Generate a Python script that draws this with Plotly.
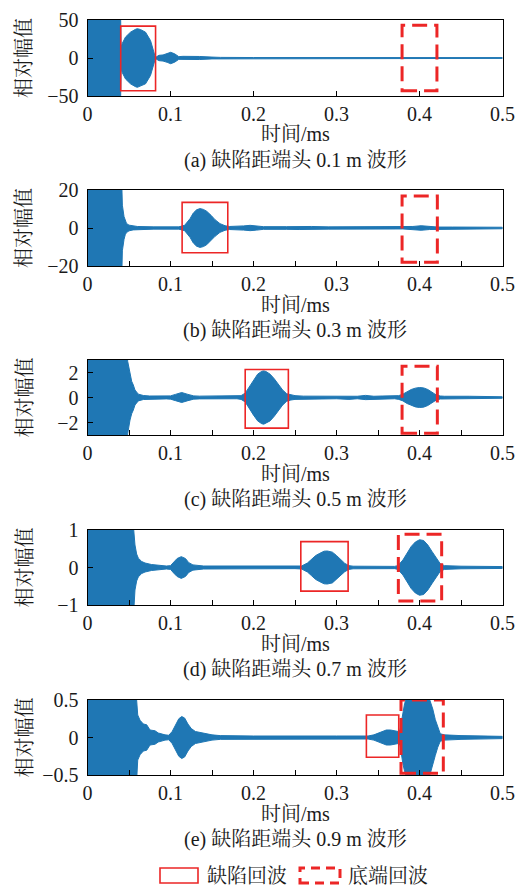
import plotly.graph_objects as go
from plotly.subplots import make_subplots

# ---------------- data ----------------
x_range = [0, 0.5]
x_tickvals = [0, 0.1, 0.2, 0.3, 0.4, 0.5]

captions = [
    "(a) 缺陷距端头 0.1 m 波形",
    "(b) 缺陷距端头 0.3 m 波形",
    "(c) 缺陷距端头 0.5 m 波形",
    "(d) 缺陷距端头 0.7 m 波形",
    "(e) 缺陷距端头 0.9 m 波形",
]
y_ranges = [[-50, 50], [-20, 20], [-3, 3], [-1, 1], [-0.5, 0.5]]
y_tickvals = [[-50, 0, 50], [-20, 0, 20], [-2, 0, 2], [-1, 0, 1], [-0.5, 0, 0.5]]

# envelope (|amplitude|) of each waveform, time in ms
t_a = [0, 0.0395, 0.0405, 0.0418, 0.0458, 0.0518, 0.0578, 0.060, 0.0638, 0.0699,
       0.0759, 0.0791, 0.0811, 0.083, 0.086, 0.091, 0.096, 0.1002, 0.105, 0.110,
       0.115, 0.125, 0.135, 0.150, 0.160, 0.200, 0.380, 0.390, 0.400, 0.410, 0.420, 0.500]
amp_a = [80, 80, 14, 19, 27.6, 34, 37.7, 38.6, 37.5, 34,
         23, 12, 3.5, 1.5, 3.5, 4.0, 5.7, 7.5, 5.5, 1.8,
         2.2, 2.2, 2.0, 1.2, 0.8, 0.6, 0.6, 0.9, 1.1, 0.9, 0.6, 0.5]

t_b = [0, 0.0405, 0.0415, 0.042, 0.044, 0.0455, 0.047, 0.050, 0.055, 0.060, 0.080,
       0.110, 0.1135, 0.117, 0.1235, 0.1275, 0.1315, 0.1355, 0.1396, 0.1436, 0.1488,
       0.1536, 0.1596, 0.1657, 0.171, 0.180, 0.188, 0.196, 0.204, 0.212, 0.240,
       0.255, 0.262, 0.270, 0.290, 0.380, 0.392, 0.402, 0.412, 0.422, 0.440, 0.500]
amp_b = [40, 40, 20, 12, 6, 3.5, 2.4, 1.5, 1.0, 0.8, 0.6,
         0.6, 1.0, 1.4, 4.9, 7.9, 9.6, 10.2, 9.8, 8.8, 6.7,
         4.4, 2.3, 1.2, 0.8, 0.8, 1.1, 1.4, 1.1, 0.7, 0.7,
         0.8, 1.0, 0.8, 0.6, 0.5, 0.8, 1.2, 0.8, 0.5, 0.5, 0.4]

t_c = [0, 0.0472, 0.0484, 0.0512, 0.0532, 0.0552, 0.0572, 0.0612, 0.0673, 0.075, 0.095,
       0.100, 0.106, 0.1135, 0.121, 0.128, 0.135, 0.180, 0.185, 0.190, 0.195,
       0.200, 0.205, 0.210, 0.2125, 0.215, 0.220, 0.225, 0.230, 0.235, 0.240,
       0.245, 0.250, 0.260, 0.300, 0.315, 0.325, 0.335, 0.345, 0.355, 0.370,
       0.375, 0.380, 0.385, 0.390, 0.395, 0.400, 0.405, 0.410, 0.415, 0.420,
       0.425, 0.430, 0.460, 0.500]
amp_c = [5, 5, 2.9, 1.8, 1.3, 1.0, 0.6, 0.27, 0.16, 0.12, 0.11,
         0.13, 0.25, 0.4, 0.25, 0.13, 0.11, 0.1, 0.15, 0.35, 0.88,
         1.41, 1.87, 2.1, 2.13, 2.08, 1.87, 1.5, 1.07, 0.61, 0.3,
         0.2, 0.15, 0.11, 0.1, 0.15, 0.1, 0.17, 0.1, 0.12, 0.1,
         0.15, 0.27, 0.48, 0.64, 0.75, 0.8, 0.77, 0.64, 0.43, 0.21,
         0.12, 0.1, 0.1, 0.06]

t_d = [0, 0.0535, 0.0555, 0.0572, 0.0592, 0.0612, 0.0653, 0.0693, 0.077, 0.085, 0.095,
       0.100, 0.104, 0.108, 0.113, 0.118, 0.122, 0.127, 0.140, 0.250, 0.258,
       0.265, 0.270, 0.275, 0.280, 0.285, 0.289, 0.295, 0.300, 0.305, 0.310,
       0.315, 0.320, 0.370, 0.374, 0.380, 0.385, 0.390, 0.395, 0.400, 0.405,
       0.410, 0.415, 0.420, 0.425, 0.430, 0.450, 0.500]
amp_d = [2, 2, 1.05, 0.6, 0.36, 0.25, 0.16, 0.12, 0.08, 0.06, 0.04,
         0.05, 0.15, 0.24, 0.29, 0.24, 0.13, 0.07, 0.04, 0.03, 0.04,
         0.12, 0.22, 0.32, 0.38, 0.435, 0.44, 0.41, 0.32, 0.21, 0.11,
         0.05, 0.035, 0.03, 0.05, 0.2, 0.38, 0.56, 0.68, 0.74, 0.72,
         0.6, 0.43, 0.25, 0.1, 0.05, 0.035, 0.025]

t_e = [0, 0.0572, 0.0592, 0.0605, 0.0633, 0.0673, 0.0713, 0.0753, 0.0813, 0.0853, 0.0934,
       0.098, 0.102, 0.106, 0.110, 0.1135, 0.117, 0.121, 0.125, 0.130, 0.140,
       0.150, 0.160, 0.200, 0.300, 0.338, 0.345, 0.350, 0.355, 0.360, 0.365,
       0.370, 0.3745, 0.3765, 0.378, 0.380, 0.382, 0.385, 0.392, 0.400, 0.406,
       0.410, 0.413, 0.416, 0.419, 0.422, 0.425, 0.430, 0.450, 0.500]
amp_e = [1, 1, 0.5, 0.3, 0.23, 0.18, 0.17, 0.1, 0.09, 0.06, 0.035,
         0.03, 0.08, 0.17, 0.25, 0.28, 0.26, 0.18, 0.12, 0.08, 0.053,
         0.035, 0.025, 0.02, 0.02, 0.02, 0.035, 0.06, 0.08, 0.1, 0.1,
         0.09, 0.08, 0.1, 0.2, 0.35, 0.45, 0.55, 0.7, 0.78, 0.72,
         0.58, 0.48, 0.38, 0.24, 0.13, 0.05, 0.035, 0.025, 0.015]

times = [t_a, t_b, t_c, t_d, t_e]
envelopes = [amp_a, amp_b, amp_c, amp_d, amp_e]

# marker boxes: defect echo (solid) and end echo (dashed)
defect_x0 = [0.040, 0.114, 0.190, 0.257, 0.336]
defect_x1 = [0.082, 0.169, 0.242, 0.314, 0.375]
defect_y0 = [-43, -13, -2.45, -0.63, -0.264]
defect_y1 = [42, 13.5, 2.24, 0.69, 0.30]
end_x0 = [0.379, 0.379, 0.379, 0.3745, 0.3777]
end_x1 = [0.421, 0.4215, 0.4215, 0.4267, 0.4287]
end_y0 = [-43, -18, -2.85, -0.89, -0.477]
end_y1 = [43, 16.8, 2.5, 0.885, 0.5]

legend_labels = ["缺陷回波", "底端回波"]
y_title = "相对幅值"
x_title = "时间/ms"

# ---------------- layout constants ----------------
W, H = 523, 887
PX_LEFT, PX_RIGHT = 87.5, 502.5
panel_top_px = [20, 190, 360, 530, 700]
panel_bot_px = [96, 266, 435, 605, 775]
FONT = "Liberation Serif, 'Noto Serif CJK SC', 'Noto Sans CJK SC', serif"
TXT = "#1a1a1a"
BLUE = "#1f77b4"
RED = "rgb(236,38,38)"
DASH = "15px,7px"


def py(px):
    return 1 - px / H


fig = make_subplots(rows=5, cols=1)

for i in range(5):
    t = times[i]
    a = envelopes[i]
    xs = list(t) + list(t[::-1])
    ys = list(a) + [-v for v in a[::-1]]
    fig.add_trace(go.Scatter(x=xs, y=ys, mode="lines", fill="toself",
                             fillcolor=BLUE, line=dict(color=BLUE, width=1),
                             hoverinfo="skip", showlegend=False),
                  row=i + 1, col=1)

layout_axes = {}
for i in range(5):
    n = "" if i == 0 else str(i + 1)
    xa = dict(domain=[PX_LEFT / W, PX_RIGHT / W], range=x_range,
              tickvals=x_tickvals, ticks="inside", ticklen=5, tickcolor="black",
              showline=True, mirror=True, linecolor="black", linewidth=1,
              showgrid=False, zeroline=False, anchor="y" + n, automargin=False,
              tickfont=dict(family=FONT, size=20, color=TXT))
    if i > 0:
        xa["minor"] = dict(dtick=0.05, ticks="inside", ticklen=5, tickcolor="black")
    ya = dict(domain=[py(panel_bot_px[i]), py(panel_top_px[i])], range=y_ranges[i],
              tickvals=y_tickvals[i], ticks="inside", ticklen=5, tickcolor="black",
              showline=True, mirror=True, linecolor="black", linewidth=1,
              showgrid=False, zeroline=False, anchor="x" + n, automargin=False,
              ticklabelstandoff=4,
              tickfont=dict(family=FONT, size=20, color=TXT))
    layout_axes["xaxis" + n] = xa
    layout_axes["yaxis" + n] = ya

fig.update_layout(**layout_axes)

shapes = []
annotations = []
xc = (PX_LEFT + PX_RIGHT) / 2 / W
for i in range(5):
    n = "" if i == 0 else str(i + 1)
    shapes.append(dict(type="rect", xref="x" + n, yref="y" + n,
                       x0=defect_x0[i], x1=defect_x1[i], y0=defect_y0[i], y1=defect_y1[i],
                       line=dict(color=RED, width=1.6), fillcolor="rgba(0,0,0,0)"))
    shapes.append(dict(type="rect", xref="x" + n, yref="y" + n,
                       x0=end_x0[i], x1=end_x1[i], y0=end_y0[i], y1=end_y1[i],
                       line=dict(color=RED, width=3, dash=DASH), fillcolor="rgba(0,0,0,0)"))
    bot = panel_bot_px[i]
    annotations.append(dict(text=x_title, x=xc, y=py(bot + 38.5), xref="paper", yref="paper",
                            xanchor="center", yanchor="middle", showarrow=False,
                            font=dict(family=FONT, size=20, color=TXT)))
    annotations.append(dict(text=captions[i], x=xc, y=py(bot + 64), xref="paper", yref="paper",
                            xanchor="center", yanchor="middle", showarrow=False,
                            font=dict(family=FONT, size=20, color=TXT)))
    annotations.append(dict(text=y_title, x=24 / W,
                            y=py((panel_top_px[i] + panel_bot_px[i]) / 2),
                            xref="paper", yref="paper", textangle=-90,
                            xanchor="center", yanchor="middle", showarrow=False,
                            font=dict(family=FONT, size=20, color=TXT)))

# legend (drawn below the last panel)
shapes.append(dict(type="rect", xref="paper", yref="paper",
                   x0=160 / W, x1=198 / W, y0=py(883), y1=py(868),
                   line=dict(color=RED, width=1.6)))
shapes.append(dict(type="rect", xref="paper", yref="paper",
                   x0=300 / W, x1=340 / W, y0=py(883), y1=py(868),
                   line=dict(color=RED, width=3, dash="9px,6px")))
annotations.append(dict(text=legend_labels[0], x=205 / W, y=py(875.5), xref="paper", yref="paper",
                        xanchor="left", yanchor="middle", showarrow=False,
                        font=dict(family=FONT, size=20, color=TXT)))
annotations.append(dict(text=legend_labels[1], x=346 / W, y=py(875.5), xref="paper", yref="paper",
                        xanchor="left", yanchor="middle", showarrow=False,
                        font=dict(family=FONT, size=20, color=TXT)))

fig.update_layout(width=W, height=H, margin=dict(l=0, r=0, t=0, b=0, pad=0, autoexpand=False),
                  paper_bgcolor="white", plot_bgcolor="white",
                  shapes=shapes, annotations=annotations, showlegend=False,
                  font=dict(family=FONT, size=20, color=TXT))

fig.write_html("out.html",
               post_script="document.documentElement.style.margin='0';"
                           "document.body.style.margin='0';document.body.style.padding='0';")
